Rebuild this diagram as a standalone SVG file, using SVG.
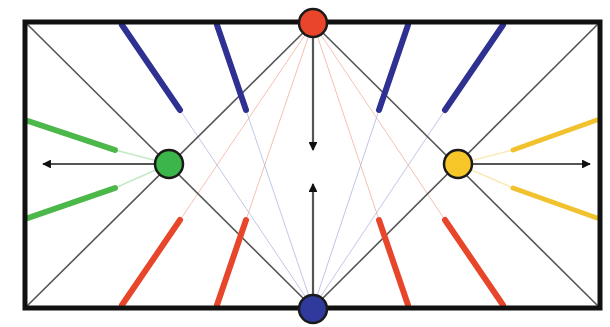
<svg xmlns="http://www.w3.org/2000/svg" width="610" height="327" viewBox="0 0 610 327">
<defs>
<style>
.faintR{stroke:#f0a58f;stroke-width:1;opacity:0.7}
.faintB{stroke:#a9aee0;stroke-width:1;opacity:0.7}
.faintG{stroke:#9fd9a2;stroke-width:1.5;opacity:0.6}
.faintY{stroke:#f6dc8a;stroke-width:1.5;opacity:0.6}
.diag{stroke:#555;stroke-width:1.6}
.segB{stroke:#2e3192;stroke-width:6;stroke-linecap:round}
.segR{stroke:#e8462b;stroke-width:6;stroke-linecap:round}
.segG{stroke:#4cb849;stroke-width:6;stroke-linecap:round}
.segY{stroke:#f2c12e;stroke-width:5;stroke-linecap:round}
.arr{stroke:#555;stroke-width:2.2;marker-end:url(#ah)}
.node{stroke:#1a1a1a;stroke-width:2.5}
</style>
<marker id="ah" viewBox="0 0 10 10" refX="9" refY="5" markerWidth="4" markerHeight="4" orient="auto" markerUnits="strokeWidth">
<path d="M0,0 L10,5 L0,10 Z" fill="#111"/>
</marker>
</defs>
<rect x="0" y="0" width="610" height="327" fill="#ffffff"/>
<g id="connectors" fill="none">
<line class="faintR" x1="313" y1="23" x2="180" y2="220"/>
<line class="faintR" x1="313" y1="23" x2="246" y2="220"/>
<line class="faintR" x1="313" y1="23" x2="379" y2="220"/>
<line class="faintR" x1="313" y1="23" x2="445" y2="220"/>
<line class="faintB" x1="313" y1="308" x2="180" y2="110"/>
<line class="faintB" x1="313" y1="308" x2="246" y2="110"/>
<line class="faintB" x1="313" y1="308" x2="379" y2="110"/>
<line class="faintB" x1="313" y1="308" x2="445" y2="110"/>
<line class="faintG" x1="115" y1="150" x2="169" y2="164"/>
<line class="faintG" x1="115" y1="188" x2="169" y2="164"/>
<line class="faintY" x1="513" y1="150" x2="458" y2="164"/>
<line class="faintY" x1="513" y1="188" x2="458" y2="164"/>
<line class="diag" x1="27" y1="24" x2="313" y2="308"/>
<line class="diag" x1="27" y1="306" x2="313" y2="23"/>
<line class="diag" x1="598" y1="24" x2="313" y2="308"/>
<line class="diag" x1="598" y1="306" x2="313" y2="23"/>
<line class="segB" x1="122" y1="25" x2="180" y2="110"/>
<line class="segB" x1="217" y1="25" x2="246" y2="110"/>
<line class="segB" x1="408" y1="25" x2="379" y2="110"/>
<line class="segB" x1="503" y1="25" x2="445" y2="110"/>
<line class="segR" x1="122" y1="305" x2="180" y2="220"/>
<line class="segR" x1="217" y1="305" x2="246" y2="220"/>
<line class="segR" x1="408" y1="305" x2="379" y2="220"/>
<line class="segR" x1="503" y1="305" x2="445" y2="220"/>
<line class="segG" x1="28" y1="121" x2="115" y2="150"/>
<line class="segG" x1="28" y1="218" x2="115" y2="188"/>
<line class="segY" x1="597" y1="120" x2="513" y2="150"/>
<line class="segY" x1="597" y1="218" x2="513" y2="188"/>
<line class="arr" x1="155" y1="164" x2="43" y2="164"/>
<line class="arr" x1="472" y1="164" x2="590" y2="164"/>
<line class="arr" x1="313" y1="37" x2="313" y2="150"/>
<line class="arr" x1="313" y1="294" x2="313" y2="184"/>
</g>
<rect x="25" y="22" width="575" height="286" fill="none" stroke="#111" stroke-width="5"/>
<g id="red-node"><circle class="node" cx="313" cy="23" r="14" fill="#e8452a"/></g>
<g id="blue-node"><circle class="node" cx="313" cy="309" r="14" fill="#2f3a9c"/></g>
<g id="green-node"><circle class="node" cx="169" cy="164" r="14" fill="#3cb54a"/></g>
<g id="yellow-node"><circle class="node" cx="458" cy="164" r="14" fill="#f7c72a"/></g>
</svg>
